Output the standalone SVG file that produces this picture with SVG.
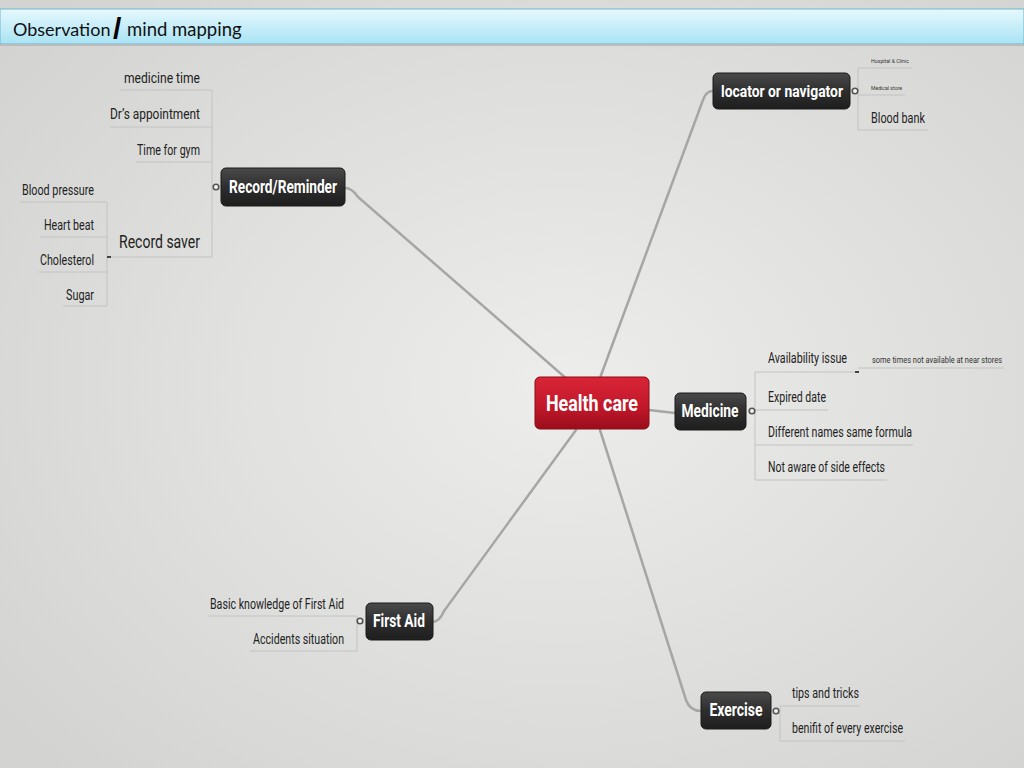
<svg xmlns="http://www.w3.org/2000/svg" width="1024" height="768" viewBox="0 0 1024 768">
<defs>
<radialGradient id="bg" cx="0.55" cy="0.5" r="0.7">
<stop offset="0" stop-color="#ededeb"/>
<stop offset="1" stop-color="#d3d4d2"/>
</radialGradient>
<linearGradient id="title" x1="0" y1="0" x2="0" y2="1">
<stop offset="0" stop-color="#e6f8fd"/>
<stop offset="1" stop-color="#a9e3f4"/>
</linearGradient>
<linearGradient id="dark" x1="0" y1="0" x2="0" y2="1">
<stop offset="0" stop-color="#4a4a4a"/>
<stop offset="0.5" stop-color="#2e2e2e"/>
<stop offset="1" stop-color="#1e1e1e"/>
</linearGradient>
<linearGradient id="red" x1="0" y1="0" x2="0" y2="1">
<stop offset="0" stop-color="#d92536"/>
<stop offset="0.6" stop-color="#c0172a"/>
<stop offset="1" stop-color="#9a0d1b"/>
</linearGradient>
<style>
.t{font-family:Roboto,"Liberation Sans",sans-serif;font-size:14px;fill:#222}
.s{font-family:Roboto,"Liberation Sans",sans-serif;font-size:6px;fill:#333}
.n{font-family:Roboto,"Liberation Sans",sans-serif;font-size:18px;font-weight:bold;fill:#fff}
.box{fill:url(#dark);stroke:#1a1a1a;stroke-width:1}
.br{fill:none;stroke:#a6a6a6;stroke-width:2.5;stroke-linecap:round}
.ln{fill:none;stroke:#c2c2c2;stroke-width:1}
.dot{fill:#f2f2f2;stroke:#555;stroke-width:1.6}
</style>
</defs>
<rect width="1024" height="768" fill="url(#bg)"/>
<g id="titlebar">
<rect x="0" y="9" width="1024" height="35" fill="url(#title)" stroke="#6fb5c8" stroke-width="1"/>
<line x1="0" y1="45" x2="1024" y2="45" stroke="#b8bcbc" stroke-width="2"/>
<text x="13" y="36" font-family="Lato,'Open Sans',sans-serif" font-size="18" fill="#111">Observation</text>
<text x="113" y="39" font-family="'Liberation Sans',sans-serif" font-size="30" font-weight="bold" fill="#000">/</text>
<text x="127" y="36" font-family="Lato,'Open Sans',sans-serif" font-size="18.5" fill="#111">mind mapping</text>
</g>
<g id="connectors">
<path class="br" d="M568,380 L358,197 Q352,188 345,188" stroke-width="3"/>
<path class="br" d="M600,378 L703,100 Q706,91 713,91" stroke-width="2.5"/>
<path class="br" d="M649,410 L675,413" stroke-width="2"/>
<path class="br" d="M576,430 L444,611 Q440,621 433,622" stroke-width="2.5"/>
<path class="br" d="M600,430 L686,700 Q690,711 701,711" stroke-width="2.5"/>
<path class="ln" d="M212,90 V257 M120,90 H212 M110,127 H212 M136,162 H212 M108,257 H212"/>
<path class="ln" d="M107,202 V306 M20,202 H107 M40,237 H107 M38,272 H107 M63,306 H107"/>
<path class="ln" d="M858,68 V130 M858,68 H912 M858,95 H905 M858,130 H928"/>
<path class="ln" d="M755,372 V480 M755,372 H857 M755,410 H828 M755,445 H913 M755,480 H887 M858,368 H1004"/>
<path class="ln" d="M357,616 V651 M208,616 H357 M250,651 H357"/>
<path class="ln" d="M780,706 V741 M780,706 H860 M780,741 H905"/>
<circle class="dot" cx="216" cy="187" r="2.8"/>
<circle class="dot" cx="855" cy="91" r="2.8"/>
<circle class="dot" cx="752" cy="411" r="2.8"/>
<circle class="dot" cx="360" cy="621" r="2.8"/>
<circle class="dot" cx="776" cy="711" r="2.8"/>
<rect x="107" y="256" width="4" height="2" fill="#444"/>
<rect x="855" y="371" width="4" height="2" fill="#444"/>
</g>
<g id="health-care">
<rect x="535" y="377" width="114" height="52" rx="5" fill="url(#red)" stroke="#8a0c18" stroke-width="1"/>
<text x="592" y="411" text-anchor="middle" class="n" style="font-size:22px" textLength="92" lengthAdjust="spacingAndGlyphs">Health care</text>
</g>
<g id="record-reminder">
<rect class="box" x="221" y="168" width="124" height="38" rx="5"/>
<text x="283" y="193" text-anchor="middle" class="n" textLength="108" lengthAdjust="spacingAndGlyphs">Record/Reminder</text>
</g>
<g id="record-items">
<text class="t" x="200" y="83" text-anchor="end" textLength="76" lengthAdjust="spacingAndGlyphs">medicine time</text>
<text class="t" x="200" y="119" text-anchor="end" textLength="90" lengthAdjust="spacingAndGlyphs">Dr’s appointment</text>
<text class="t" x="200" y="155" text-anchor="end" textLength="63" lengthAdjust="spacingAndGlyphs">Time for gym</text>
<text class="t" x="200" y="248" text-anchor="end" style="font-size:18px" textLength="81" lengthAdjust="spacingAndGlyphs">Record saver</text>
<text class="t" x="94" y="195" text-anchor="end" textLength="72" lengthAdjust="spacingAndGlyphs">Blood pressure</text>
<text class="t" x="94" y="230" text-anchor="end" textLength="50" lengthAdjust="spacingAndGlyphs">Heart beat</text>
<text class="t" x="94" y="265" text-anchor="end" textLength="54" lengthAdjust="spacingAndGlyphs">Cholesterol</text>
<text class="t" x="94" y="300" text-anchor="end" textLength="28" lengthAdjust="spacingAndGlyphs">Sugar</text>
</g>
<g id="locator">
<rect class="box" x="713" y="73" width="137" height="36" rx="5"/>
<text x="782" y="97" text-anchor="middle" class="n" style="font-size:17px" textLength="122" lengthAdjust="spacingAndGlyphs">locator or navigator</text>
<text class="s" x="871" y="63" textLength="38" lengthAdjust="spacingAndGlyphs">Hospital &amp; Clinic</text>
<text class="s" x="871" y="90" textLength="31" lengthAdjust="spacingAndGlyphs">Medical store</text>
<text class="t" x="871" y="123" textLength="54" lengthAdjust="spacingAndGlyphs">Blood bank</text>
</g>
<g id="medicine">
<rect class="box" x="675" y="393" width="71" height="37" rx="5"/>
<text x="710" y="417" text-anchor="middle" class="n" textLength="57" lengthAdjust="spacingAndGlyphs">Medicine</text>
<text class="t" x="768" y="363" textLength="79" lengthAdjust="spacingAndGlyphs">Availability issue</text>
<text class="s" x="872" y="363" style="font-size:8.5px" textLength="130" lengthAdjust="spacingAndGlyphs">some times not available at near stores</text>
<text class="t" x="768" y="402" textLength="58" lengthAdjust="spacingAndGlyphs">Expired date</text>
<text class="t" x="768" y="437" textLength="144" lengthAdjust="spacingAndGlyphs">Different names same formula</text>
<text class="t" x="768" y="472" textLength="117" lengthAdjust="spacingAndGlyphs">Not aware of side effects</text>
</g>
<g id="first-aid">
<rect class="box" x="366" y="603" width="67" height="37" rx="5"/>
<text x="399" y="627" text-anchor="middle" class="n" textLength="52" lengthAdjust="spacingAndGlyphs">First Aid</text>
<text class="t" x="344" y="609" text-anchor="end" textLength="134" lengthAdjust="spacingAndGlyphs">Basic knowledge of First Aid</text>
<text class="t" x="344" y="644" text-anchor="end" textLength="91" lengthAdjust="spacingAndGlyphs">Accidents situation</text>
</g>
<g id="exercise">
<rect class="box" x="701" y="692" width="70" height="37" rx="5"/>
<text x="736" y="716" text-anchor="middle" class="n" textLength="53" lengthAdjust="spacingAndGlyphs">Exercise</text>
<text class="t" x="792" y="698" textLength="67" lengthAdjust="spacingAndGlyphs">tips and tricks</text>
<text class="t" x="792" y="733" textLength="111" lengthAdjust="spacingAndGlyphs">benifit of every exercise</text>
</g>
</svg>
